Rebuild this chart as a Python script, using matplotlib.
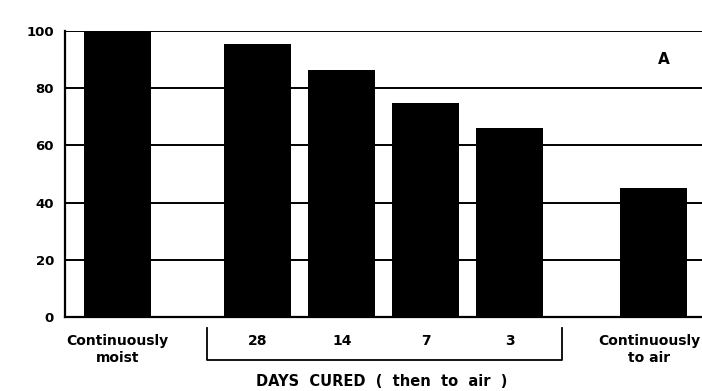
import matplotlib
matplotlib.use("Agg")
import matplotlib.pyplot as plt
import matplotlib.transforms as mtransforms

# data
categories = ["Continuously\nmoist", "28", "14", "7", "3", "Continuously\nto air"]
strength = [100, 95.5, 86.5, 75, 66, 45]

# bar positions (gaps between groups are wider)
xpos = [0, 1.67, 2.67, 3.67, 4.67, 6.38]

plt.rcParams['font.family'] = ['DejaVu Sans']
plt.rcParams['font.weight'] = 'bold'

fig = plt.figure(figsize=(7.02, 3.91), dpi=100)
ax = fig.add_axes([0.0926, 0.1893, 0.9074, 0.7314])

ax.bar(xpos, strength, width=0.8, color='black', zorder=3)

# horizontal grid lines
for v in [20, 40, 60, 80, 100]:
    ax.axhline(v, color='black', linewidth=1.4, zorder=2)

ax.set_xlim(-0.625, 6.96)
ax.set_ylim(0, 100)
ax.set_yticks([0, 20, 40, 60, 80, 100])
ax.set_yticklabels(['0', '20', '40', '60', '80', '100'], fontsize=9.5, fontweight='bold')
# last label sits at the right edge, drawn separately so it stays inside
ax.set_xticks(xpos[:-1])
ax.set_xticklabels(categories[:-1], fontsize=10, fontweight='bold', linespacing=1.3)
ax.tick_params(axis='y', length=0, pad=8)
ax.tick_params(axis='x', length=0, pad=12)

for s in ['top', 'right']:
    ax.spines[s].set_visible(False)
ax.spines['left'].set_linewidth(1.6)
ax.spines['bottom'].set_linewidth(1.6)

trans = mtransforms.blended_transform_factory(ax.transData, ax.transAxes)
ax.text(0.997, -0.058, categories[-1], transform=ax.transAxes, ha='right', va='top',
        multialignment='center', fontsize=10, fontweight='bold', linespacing=1.3)

# bracket under the 28..3 group
bx = [1.065, 1.065, 5.29, 5.29]
by = [-0.038, -0.150, -0.150, -0.038]
ax.plot(bx, by, color='black', linewidth=1.3, transform=trans, clip_on=False)
ax.text(3.15, -0.224, "DAYS  CURED  (  then  to  air  )", transform=trans,
        ha='center', va='center', fontsize=10.5, fontweight='bold')

ax.text(0.94, 0.9, "A", transform=ax.transAxes, ha='center', va='center',
        fontsize=11, fontweight='bold')

fig.savefig("out.png", dpi=100)
